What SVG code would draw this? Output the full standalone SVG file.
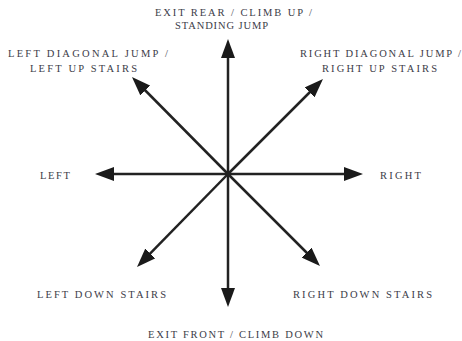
<svg xmlns="http://www.w3.org/2000/svg" width="462" height="341" viewBox="0 0 462 341">
<style>
.lbl{font-family:"Liberation Serif","DejaVu Serif",serif;font-size:10.5px;fill:#3c3c48;}
.arr{stroke:#222;stroke-width:2.5;fill:none;marker-end:url(#ah);}
</style>
<defs>
<marker id="ah" markerUnits="userSpaceOnUse" markerWidth="19" markerHeight="14" refX="7" refY="7" orient="auto" viewBox="0 0 19 14">
<path d="M0,0 L19,7 L0,14 Z" fill="#1a1a1a"/>
</marker>
</defs>
<rect width="462" height="341" fill="#ffffff"/>
<g id="connectors">
<line class="arr" x1="228" y1="174" x2="228" y2="51"/>
<line class="arr" x1="228" y1="174" x2="228" y2="295"/>
<line class="arr" x1="228" y1="174" x2="107" y2="174"/>
<line class="arr" x1="228" y1="174" x2="351" y2="174"/>
<line class="arr" x1="228" y1="174" x2="140.4" y2="85.5"/>
<line class="arr" x1="228" y1="174" x2="314.5" y2="87.5"/>
<line class="arr" x1="228" y1="174" x2="145.4" y2="258.4"/>
<line class="arr" x1="228" y1="174" x2="311.5" y2="257.5"/>
</g>
<g id="node-up">
<text class="lbl" x="155" y="16" textLength="157" lengthAdjust="spacing">EXIT REAR / CLIMB UP /</text>
<text class="lbl" x="175" y="29" textLength="93" lengthAdjust="spacing">STANDING JUMP</text>
</g>
<g id="node-upleft">
<text class="lbl" x="8" y="57" textLength="160" lengthAdjust="spacing">LEFT DIAGONAL JUMP /</text>
<text class="lbl" x="30" y="72" textLength="107" lengthAdjust="spacing">LEFT UP STAIRS</text>
</g>
<g id="node-upright">
<text class="lbl" x="300" y="57" textLength="161" lengthAdjust="spacing">RIGHT DIAGONAL JUMP /</text>
<text class="lbl" x="322" y="72" textLength="115" lengthAdjust="spacing">RIGHT UP STAIRS</text>
</g>
<g id="node-left">
<text class="lbl" x="40" y="179" textLength="30" lengthAdjust="spacing">LEFT</text>
</g>
<g id="node-right">
<text class="lbl" x="380" y="179" textLength="41" lengthAdjust="spacing">RIGHT</text>
</g>
<g id="node-downleft">
<text class="lbl" x="37" y="298" textLength="129" lengthAdjust="spacing">LEFT DOWN STAIRS</text>
</g>
<g id="node-downright">
<text class="lbl" x="293" y="298" textLength="139" lengthAdjust="spacing">RIGHT DOWN STAIRS</text>
</g>
<g id="node-down">
<text class="lbl" x="148" y="338" textLength="175" lengthAdjust="spacing">EXIT FRONT / CLIMB DOWN</text>
</g>
</svg>
